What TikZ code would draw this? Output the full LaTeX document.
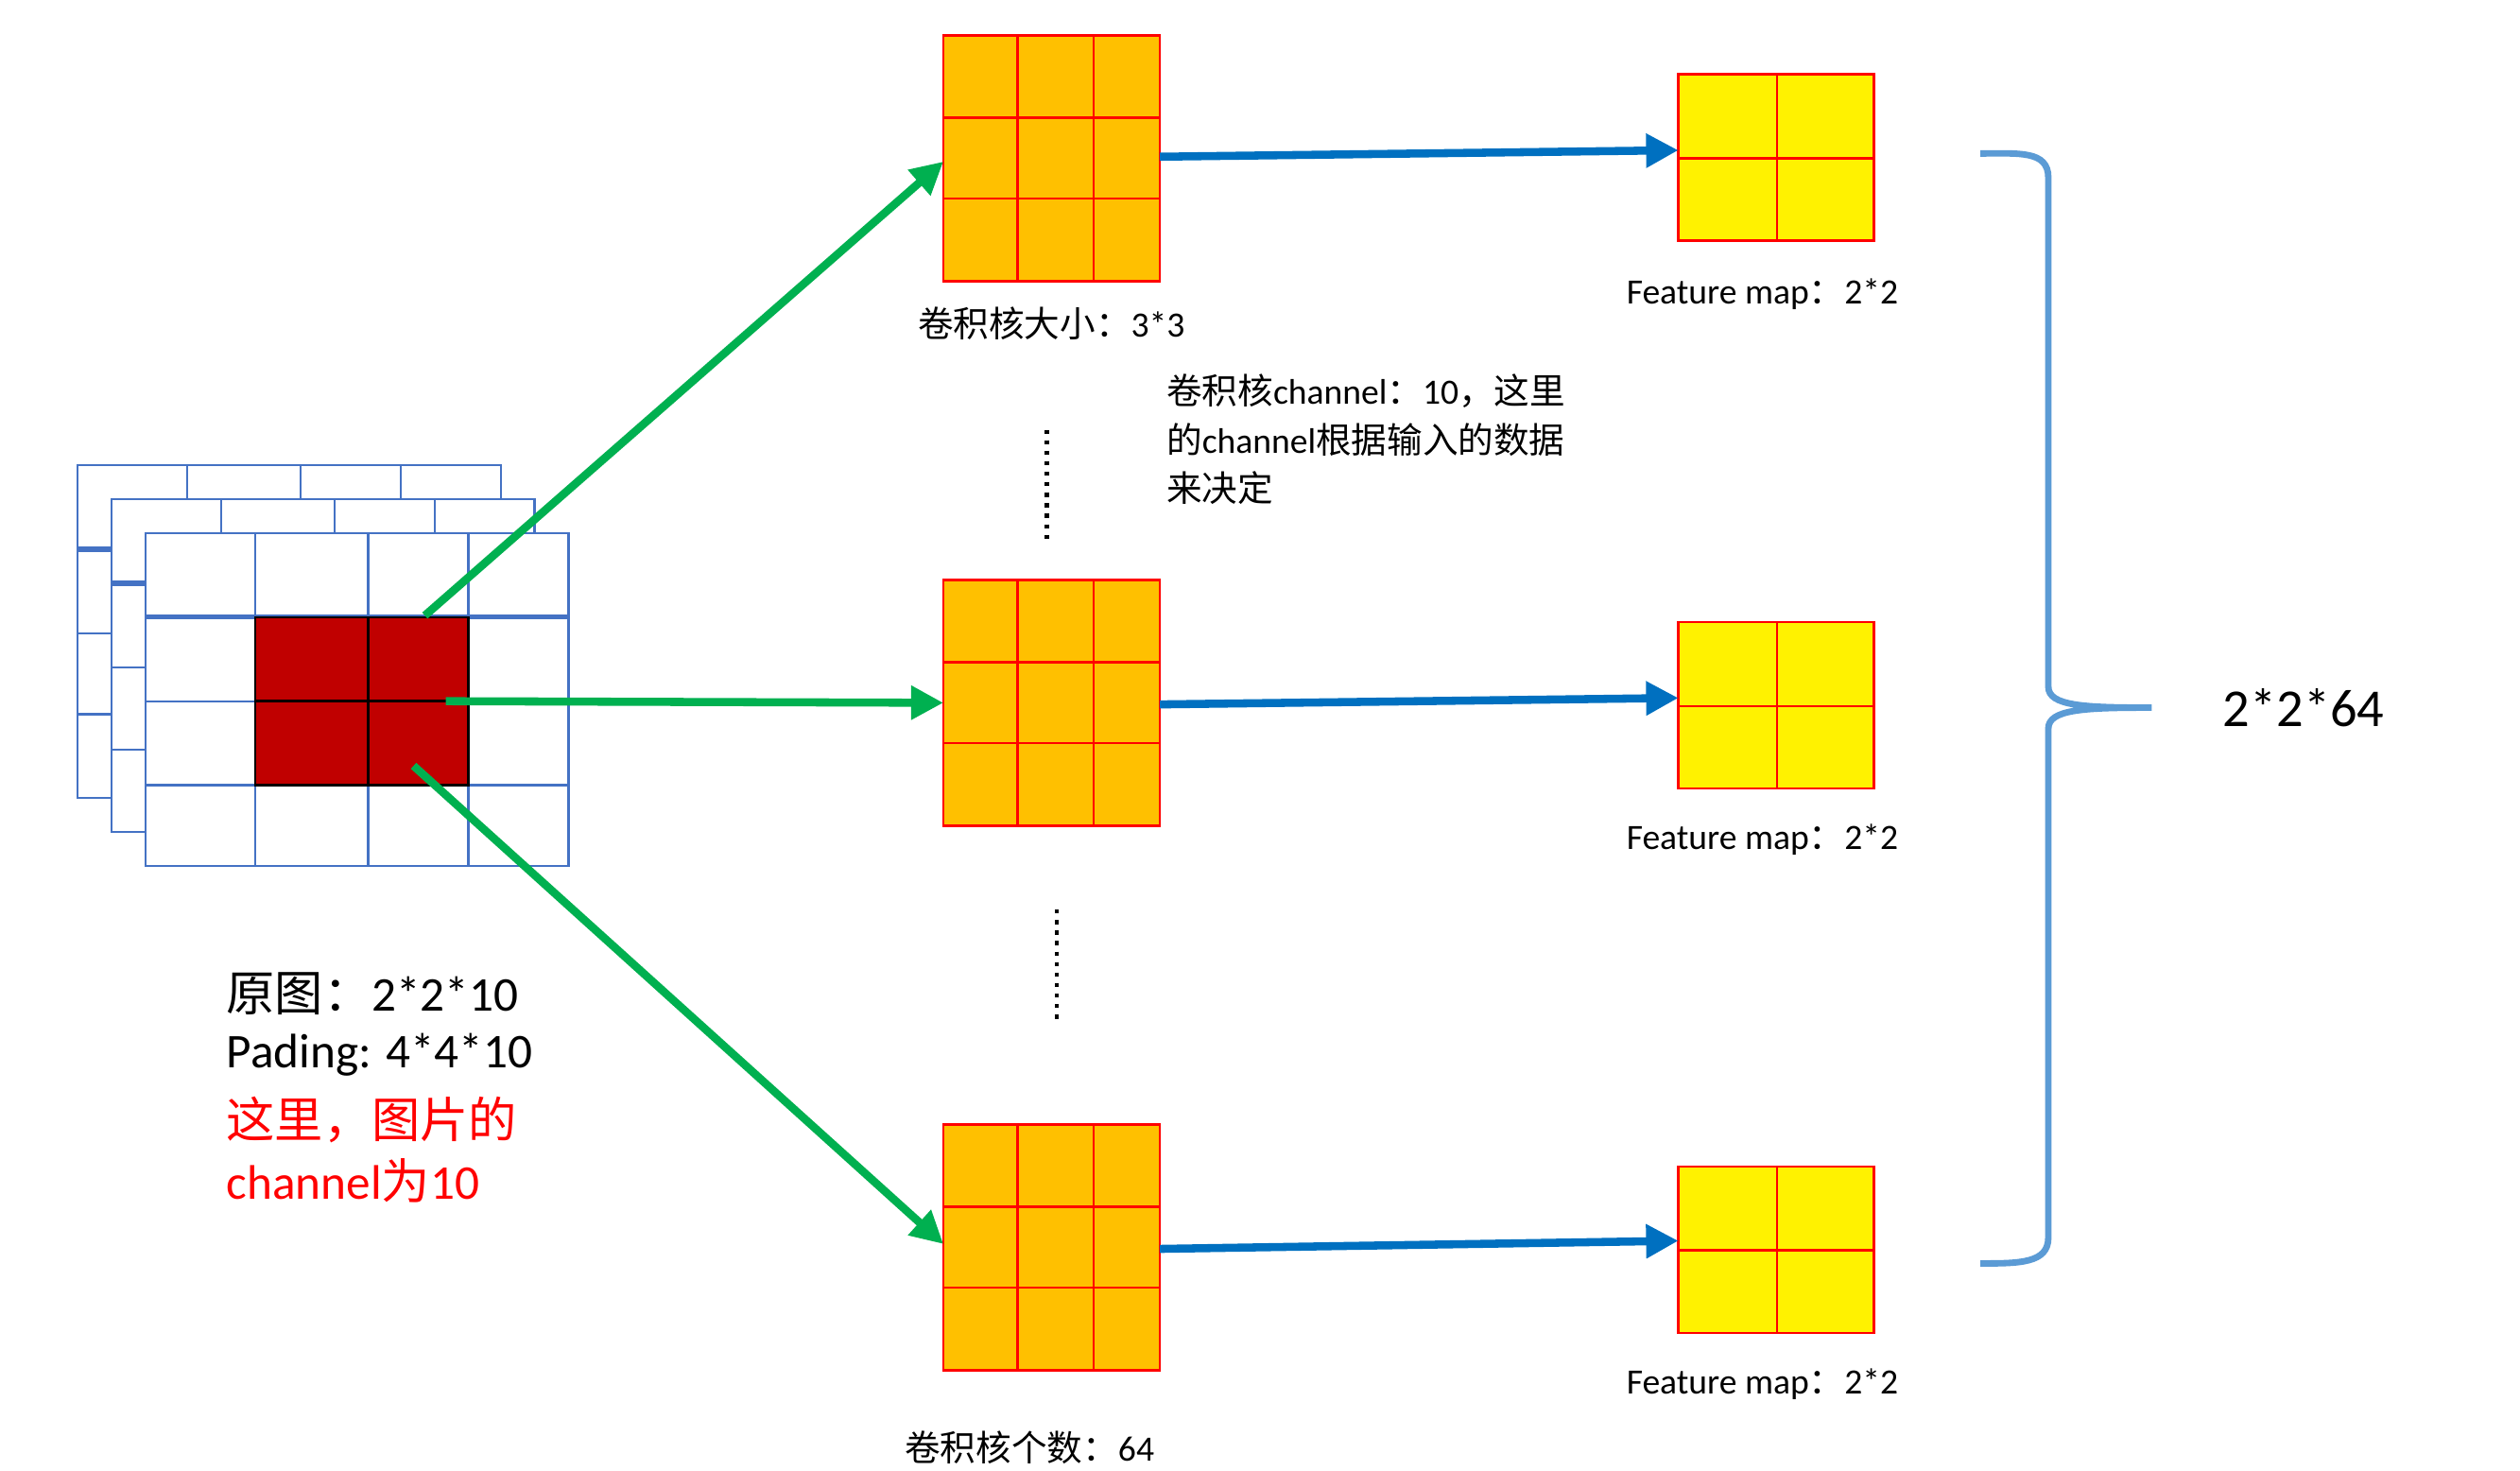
\documentclass[tikz,border=0pt]{standalone}
\usepackage{fontspec}
\setmainfont{Carlito}
\newfontfamily\cjk{Noto Sans CJK SC}
\usetikzlibrary{arrows.meta}
\definecolor{korange}{HTML}{FFC000}
\definecolor{gridblue}{HTML}{4472C4}
\definecolor{arrblue}{HTML}{0070C0}
\definecolor{arrgreen}{HTML}{00B050}
\definecolor{bracec}{HTML}{5B9BD5}
\definecolor{darkred}{HTML}{C00000}
\tikzset{
 glay/.style={draw=gridblue,line width=1.4pt,fill=white},
 gl/.style={draw=gridblue,line width=1.4pt},
 gthick/.style={draw=gridblue,line width=3pt},
 kern/.style={draw=red,line width=1.5pt,fill=korange},
 fmap/.style={draw=red,line width=1.5pt,fill=yellow},
 cell/.style={draw=red,line width=1.5pt},
 barr/.style={draw=arrblue,line width=5pt,-{Triangle[length=20pt,width=20pt]}},
 garr/.style={draw=arrgreen,line width=5pt,-{Triangle[length=20pt,width=20pt]}},
 lab/.style={inner sep=0pt,font=\fontsize{22}{26}\selectfont},
 big/.style={inner sep=0pt,font=\fontsize{30}{34}\selectfont},
 dots/.style={line width=2.5pt,dash pattern=on 2.5pt off 4pt},
}
\newcommand{\kernel}[2]{%
 \path[kern] (584,#1) rectangle (718,#1+152);
 \draw[cell] (630,#1)--(630,#1+152) (677,#1)--(677,#1+152) (584,#1+51)--(718,#1+51) (584,#1+101)--(718,#1+101);
 \coordinate (#2) at (584,#1+76);}
\newcommand{\fm}[2]{%
 \path[fmap] (1039,#1) rectangle (1160,#1+103);
 \draw[cell] (1100,#1)--(1100,#1+103) (1039,#1+52)--(1160,#1+52);}
\begin{document}
\begin{tikzpicture}[x=1pt,y=-1pt]
\path[fill=white] (0,0) rectangle (1560,910);
\useasboundingbox (0,0) rectangle (1560,910);
% back layer
\path[glay] (48,288) rectangle (310,494);
\draw[gl] (116,288)--(116,340) (186,288)--(186,340) (248,288)--(248,340) (48,392)--(69,392) (48,442)--(69,442);
\draw[gthick] (48,340)--(69,340);
% middle layer
\path[glay] (69,309) rectangle (331,515);
\draw[gl] (137,309)--(137,361) (207,309)--(207,361) (269,309)--(269,361) (69,413)--(90,413) (69,464)--(90,464);
\draw[gthick] (69,361)--(90,361);
% front layer
\path[glay] (90,330) rectangle (352,536);
\draw[gl] (158,330)--(158,536) (228,330)--(228,536) (290,330)--(290,536) (90,434)--(352,434) (90,486)--(352,486);
\draw[gthick] (90,382)--(352,382);
\path[fill=darkred,draw=black,line width=1.5pt] (158,382) rectangle (290,486);
\draw[black,line width=1.5pt] (228,382)--(228,486) (158,434)--(290,434);
\coordinate (s1) at (263,381); \coordinate (s2) at (276,434); \coordinate (s3) at (256,474);
% kernels
\kernel{22}{k1}\kernel{359}{k2}\kernel{696}{k3}
\coordinate (k1a) at (584,100); \coordinate (k3a) at (584,770);
\fm{46}{f1}\fm{385}{f2}\fm{722}{f3}
\coordinate (b1s) at (718,97); \coordinate (b1e) at (1039,93);
\coordinate (b2s) at (718,436); \coordinate (b2e) at (1039,432);
\coordinate (b3s) at (718,773); \coordinate (b3e) at (1039,768);
\draw[barr] (b1s)--(b1e); \draw[barr] (b2s)--(b2e); \draw[barr] (b3s)--(b3e);
\draw[garr] (s1)--(k1a); \draw[garr] (s2)--(k2); \draw[garr] (s3)--(k3a);
\draw[dots] (648,266)--(648,334); \draw[dots] (654,563)--(654,631);
% brace
\draw[bracec,line width=4pt] (1226,95) .. controls (1250,95) and (1268,93) .. (1268,110)
 -- (1268,425) .. controls (1268,437) and (1290,438) .. (1332,438)
 .. controls (1290,438) and (1268,439) .. (1268,451) -- (1268,766)
 .. controls (1268,782) and (1250,782) .. (1226,782);
% texts
\node[lab,anchor=west] (t1) at (568,200) {{\cjk 卷积核大小：}3*3};
\node[lab,anchor=west] (t2a) at (722,242) {{\cjk 卷积核}channel{\cjk ：}10{\cjk ，这里}};
\node[lab,anchor=west] (t2b) at (722,272) {{\cjk 的}channel{\cjk 根据输入的数据}};
\node[lab,anchor=west] (t2c) at (722,302) {{\cjk 来决定}};
\node[lab] (l1) at (1091,182) {Feature map{\cjk ：}2*2};
\node[lab] (l2) at (1091,520) {Feature map{\cjk ：}2*2};
\node[lab] (l3) at (1091,857) {Feature map{\cjk ：}2*2};
\node[lab,anchor=west] (t3) at (560,896) {{\cjk 卷积核个数：}64};
\node[big,anchor=west] (o1) at (140,615) {{\cjk 原图：}2*2*10};
\node[big,anchor=west] (o2) at (140,653) {Pading: 4*4*10};
\node[big,anchor=west,text=red] (o3) at (140,693) {{\cjk 这里，图片的}};
\node[big,anchor=west,text=red] (o4) at (140,731) {channel{\cjk 为}10};
\node[inner sep=0pt,anchor=west,font=\fontsize{33}{38}\selectfont] (r) at (1376,438) {2*2*64};
\end{tikzpicture}
\end{document}
